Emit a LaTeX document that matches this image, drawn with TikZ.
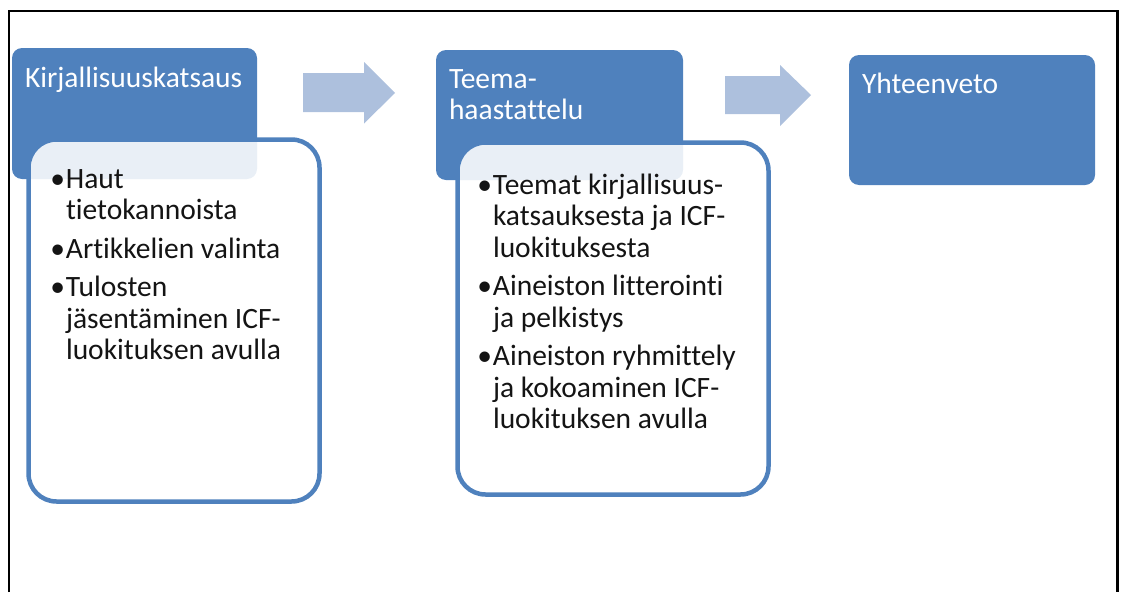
\documentclass[tikz,border=0pt]{standalone}
\usepackage{fontspec}
\setmainfont{Carlito}[Ligatures={NoCommon}]
\definecolor{hdrblue}{HTML}{4F81BD}
\definecolor{arrblue}{HTML}{ADC0DD}
\definecolor{txtdark}{HTML}{141414}
\begin{document}
\begin{tikzpicture}[x=1pt,y=-1pt,
  hdrbox/.style={draw=none, fill=hdrblue, rounded corners=10pt, anchor=north west, inner sep=0pt, outer sep=0pt, rectangle},
  listbox/.style={draw=hdrblue, line width=4.5pt, fill=white, fill opacity=0.88, rounded corners=28pt, anchor=north west, inner sep=0pt, outer sep=0pt, rectangle},
  hdrtext/.style={anchor=north west, inner sep=0pt, outer sep=0pt, align=left, text=white, font=\fontsize{29.5}{31.5}\selectfont},
  listtext/.style={anchor=north west, inner sep=0pt, outer sep=0pt, align=left, text=txtdark, font=\fontsize{29.5}{31.5}\selectfont},
  flowarrow/.style={fill=arrblue, draw=none}
]
\useasboundingbox (0,0) rectangle (1122,592);
% frame
\draw[line width=2.5pt, black] (9,592) -- (9,11) -- (1117.5,11) -- (1117.5,592);

% column 1
\node[hdrbox, minimum width=245pt, minimum height=131pt] (h1) at (12,48) {};
\node[hdrtext] (h1t) at (25,63) {\rule{0pt}{24pt}Kirjallisuuskatsaus};
\node[listbox, minimum width=291pt, minimum height=362pt] (c1) at (28.5,139.5) {};
\node[listtext] (c1t) at (66,164) {\rule{0pt}{24pt}\llap{•\kern1pt}Haut\\tietokannoista\\[7pt]\llap{•\kern1pt}Artikkelien valinta\\[7pt]\llap{•\kern1pt}Tulosten\\jäsentäminen ICF-\\luokituksen avulla};

% arrow 1
\fill[flowarrow] (303,73) -- (364,73) -- (364,62) -- (395,93) -- (364,123.5) -- (364,112) -- (303,112) -- cycle;

% column 2
\node[hdrbox, minimum width=247pt, minimum height=130pt] (h2) at (436,50) {};
\node[hdrtext] (h2t) at (449,64) {\rule{0pt}{24pt}Teema-\\haastattelu};
\node[listbox, minimum width=311pt, minimum height=352pt] (c2) at (457.5,142.5) {};
\node[listtext] (c2t) at (493,170) {\rule{0pt}{24pt}\llap{•\kern1pt}Teemat kirjallisuus-\\katsauksesta ja ICF-\\luokituksesta\\[7pt]\llap{•\kern1pt}Aineiston litterointi\\ja pelkistys\\[7pt]\llap{•\kern1pt}Aineiston ryhmittely\\ja kokoaminen ICF-\\luokituksen avulla};

% arrow 2
\fill[flowarrow] (725,76) -- (780,76) -- (780,65) -- (811,95) -- (780,126) -- (780,114) -- (725,114) -- cycle;

% column 3
\node[hdrbox, minimum width=246pt, minimum height=130pt] (h3) at (849,55) {};
\node[hdrtext] (h3t) at (862,69) {\rule{0pt}{24pt}Yhteenveto};
\end{tikzpicture}
\end{document}
